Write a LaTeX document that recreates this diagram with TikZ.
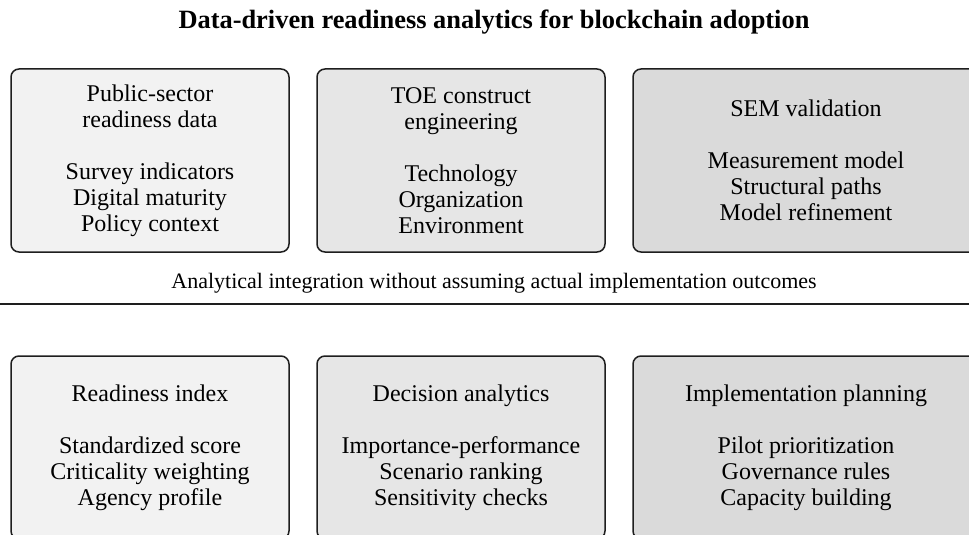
\documentclass[tikz,border=0pt]{standalone}
\usepackage{fontspec}
\setmainfont{Liberation Serif}
\usetikzlibrary{positioning}

\definecolor{fillA}{HTML}{F2F2F2}
\definecolor{fillB}{HTML}{E6E6E6}
\definecolor{fillC}{HTML}{DADADA}
\definecolor{edge}{HTML}{1E1E1E}

\tikzstyle{panel} = [rectangle, rounded corners=8pt, minimum height=183pt, text centered, align=center, draw=edge, line width=1.5pt, font=\fontsize{24}{26}\selectfont]
\tikzstyle{light} = [fill=fillA]
\tikzstyle{mid} = [fill=fillB]
\tikzstyle{dark} = [fill=fillC]
\tikzstyle{rule} = [line width=1.5pt, draw=edge]

\begin{document}
\begin{tikzpicture}[x=1pt, y=-1pt, node distance=311pt]

\useasboundingbox (0,0) rectangle (969,535);

%% NODES

\node (title) [anchor=base, font=\fontsize{26.4}{30}\selectfont\bfseries] at (494,29) {Data-driven readiness analytics for blockchain adoption};

\node (data) [panel, light, minimum width=278pt] at (150,160.5) {Public-sector\\readiness data\\[26pt]Survey indicators\\Digital maturity\\Policy context};
\node (toe) [panel, mid, minimum width=288pt, node distance=311pt, right of=data] {TOE construct\\engineering\\[26pt]Technology\\Organization\\Environment};
\node (sem) [panel, dark, minimum width=346pt, node distance=345pt, right of=toe] {SEM validation\\[26pt]Measurement model\\Structural paths\\Model refinement};

\node (note) [anchor=base, font=\fontsize{22}{26}\selectfont] at (494,288) {Analytical integration without assuming actual implementation outcomes};

\node (index) [panel, light, minimum width=278pt, node distance=287pt, below of=data] {Readiness index\\[26pt]Standardized score\\Criticality weighting\\Agency profile};
\node (decide) [panel, mid, minimum width=288pt, node distance=311pt, right of=index] {Decision analytics\\[26pt]Importance-performance\\Scenario ranking\\Sensitivity checks};
\node (plan) [panel, dark, minimum width=346pt, node distance=345pt, right of=decide] {Implementation planning\\[26pt]Pilot prioritization\\Governance rules\\Capacity building};

%% LINES

\coordinate (sepL) at (0,304);
\coordinate (sepR) at (990,304);
\draw [rule] (sepL) -- (sepR);

\end{tikzpicture}
\end{document}
